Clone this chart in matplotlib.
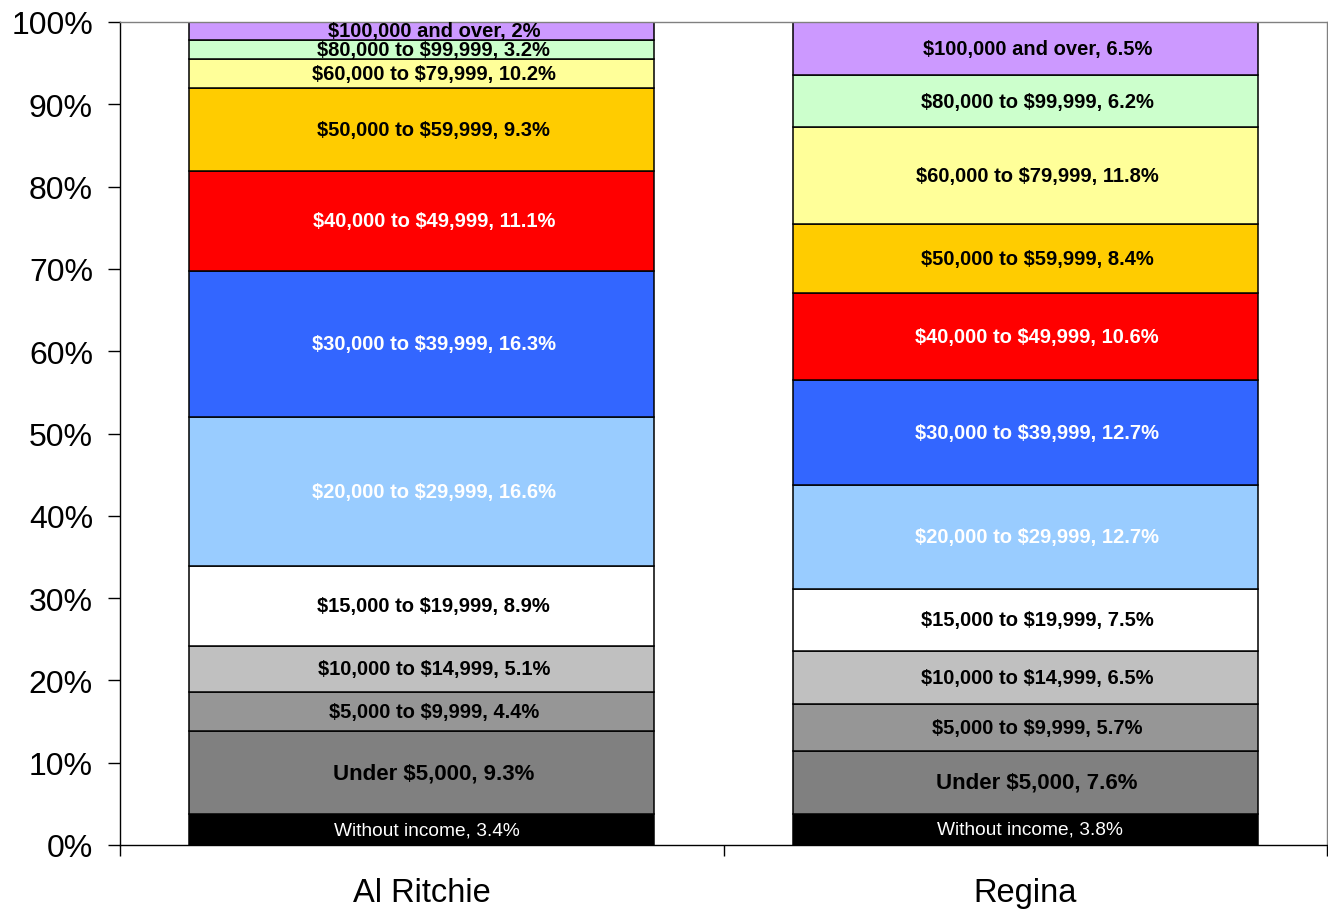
import matplotlib
matplotlib.use("Agg")
import matplotlib.pyplot as plt
from matplotlib.ticker import FuncFormatter, FixedLocator
from matplotlib.transforms import offset_copy
import numpy as np

plt.rcParams['font.family'] = ['Liberation Sans', 'DejaVu Sans']

categories = ['Al Ritchie', 'Regina']
brackets = ['Without income', 'Under $5,000', '$5,000 to $9,999', '$10,000 to $14,999',
            '$15,000 to $19,999', '$20,000 to $29,999', '$30,000 to $39,999',
            '$40,000 to $49,999', '$50,000 to $59,999', '$60,000 to $79,999',
            '$80,000 to $99,999', '$100,000 and over']
# segment sizes as drawn (chart is 100% stacked)
al_ritchie = [3.4, 9.3, 4.4, 5.1, 8.9, 16.6, 16.3, 11.1, 9.3, 3.2, 2.1, 2.0]
regina = [3.8, 7.6, 5.7, 6.5, 7.5, 12.7, 12.7, 10.6, 8.4, 11.8, 6.2, 6.5]
# percentages printed on the labels
al_ritchie_labels = ['3.4%', '9.3%', '4.4%', '5.1%', '8.9%', '16.6%', '16.3%',
                     '11.1%', '9.3%', '10.2%', '3.2%', '2%']
regina_labels = ['3.8%', '7.6%', '5.7%', '6.5%', '7.5%', '12.7%', '12.7%',
                 '10.6%', '8.4%', '11.8%', '6.2%', '6.5%']

colors = ['#000000', '#808080', '#969696', '#C0C0C0', '#FFFFFF', '#99CCFF',
          '#3366FF', '#FF0000', '#FFCC00', '#FFFF99', '#CCFFCC', '#CC99FF']
text_colors = ['white', 'black', 'black', 'black', 'black', 'white',
               'white', 'white', 'black', 'black', 'black', 'black']

fig = plt.figure(figsize=(13.28, 9.12), dpi=100)
ax = fig.add_axes([120 / 1328, 66 / 912, 1207 / 1328, 823 / 912])

# data labels sit a little right of the bar centre, like in Excel
lbl_trans = offset_copy(ax.transData, fig=fig, x=12, y=0, units='dots')
lbl_trans0 = offset_copy(ax.transData, fig=fig, x=5, y=0, units='dots')

data = np.array([al_ritchie, regina], dtype=float)
data = data / data.sum(axis=1, keepdims=True) * 100
labels = [al_ritchie_labels, regina_labels]
x = np.arange(len(categories))
bottom = np.zeros(len(categories))
for j, name in enumerate(brackets):
    ax.bar(x, data[:, j], 0.77, bottom=bottom, color=colors[j],
           edgecolor='black', linewidth=1.1, zorder=2)
    for i in range(len(categories)):
        txt = name + ', ' + labels[i][j]
        if j == 0:
            kw = dict(fontsize=13.8, fontweight='normal', transform=lbl_trans0)
        elif j == 1:
            kw = dict(fontsize=16, fontweight='bold', transform=lbl_trans)
        else:
            kw = dict(fontsize=14.5, fontweight='bold', transform=lbl_trans)
        ax.text(x[i], bottom[i] + data[i, j] / 2, txt, ha='center', va='center',
                color=text_colors[j], zorder=3, parse_math=False, **kw)
    bottom += data[:, j]

ax.set_xlim(-0.5, 1.5)
ax.set_ylim(0, 100)
ax.set_yticks(np.arange(0, 101, 10))
ax.yaxis.set_major_formatter(FuncFormatter(lambda v, p: '%d%%' % v))
ax.tick_params(axis='y', labelsize=23, length=8.5, width=1, pad=11)
ax.set_xticks(x)
ax.set_xticklabels(categories)
ax.tick_params(axis='x', which='major', labelsize=23.5, length=0, pad=23)
ax.xaxis.set_minor_locator(FixedLocator([-0.5, 0.5, 1.5]))
ax.tick_params(axis='x', which='minor', length=8, width=1)

for s in ['top', 'right']:
    ax.spines[s].set_color('#808080')
    ax.spines[s].set_linewidth(1)
ax.spines['left'].set_linewidth(1)
ax.spines['bottom'].set_linewidth(1)

fig.savefig('out.png', dpi=100)
